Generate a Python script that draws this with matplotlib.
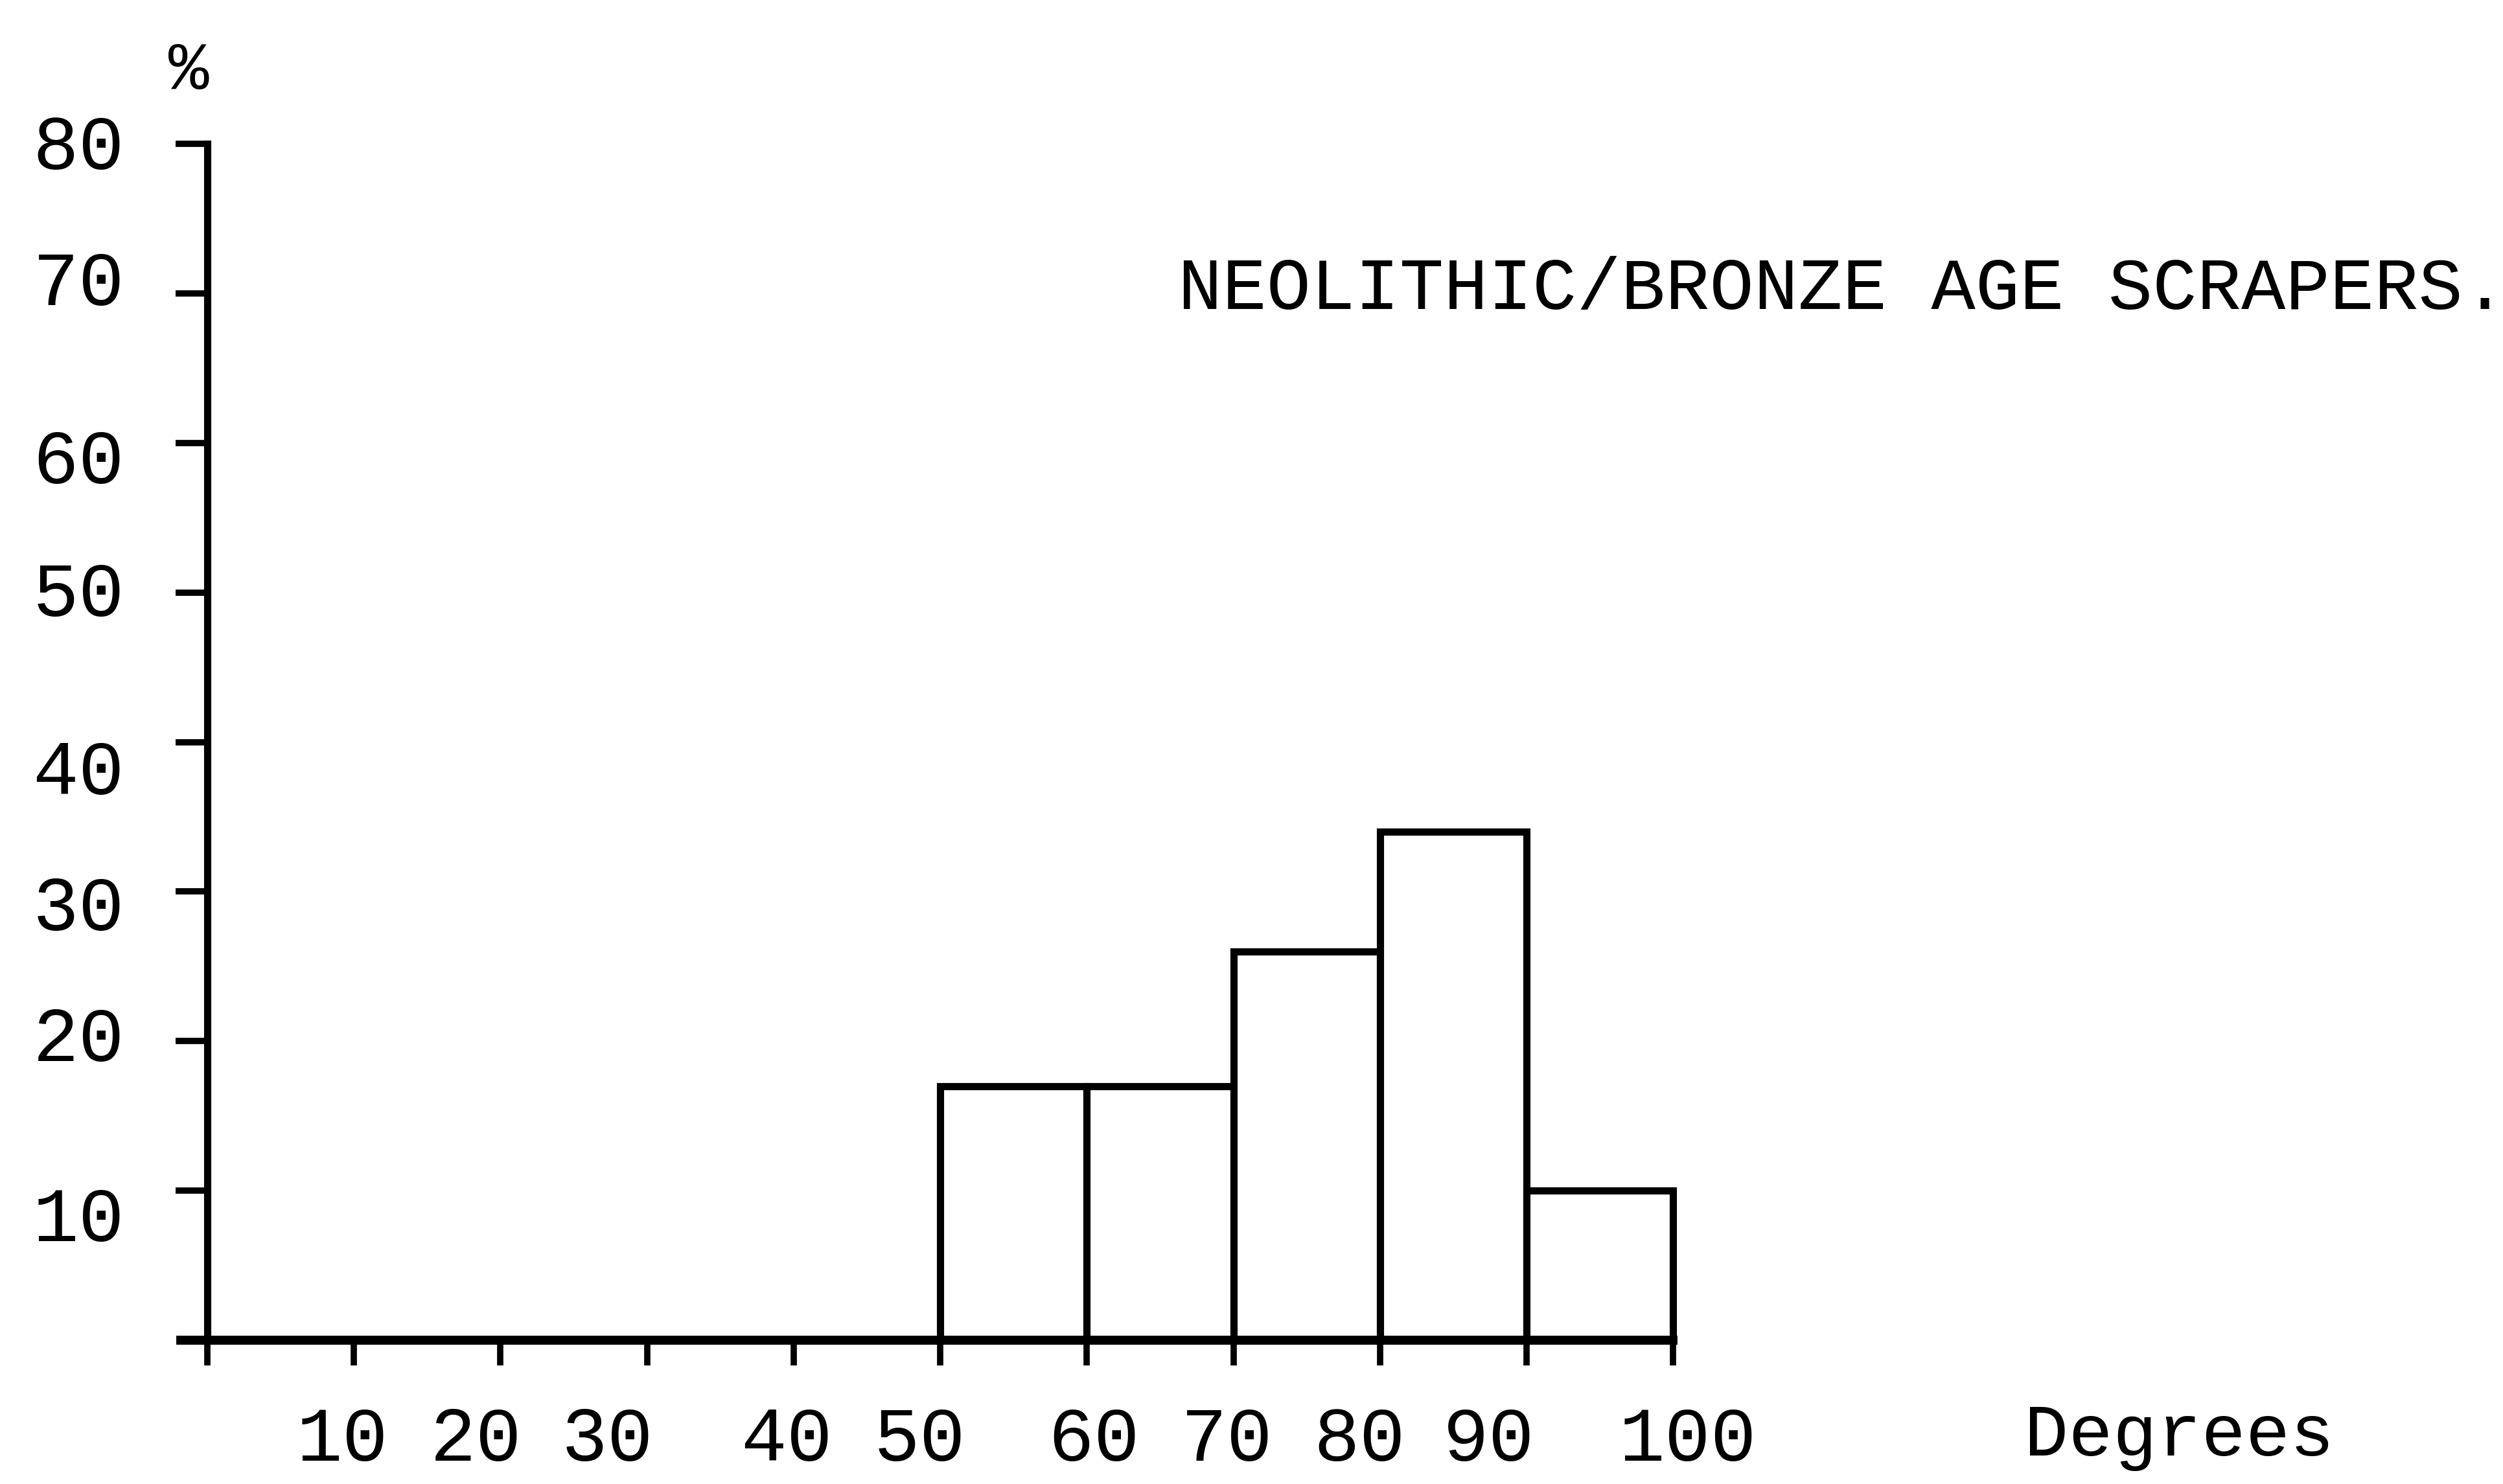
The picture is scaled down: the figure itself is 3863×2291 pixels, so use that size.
import matplotlib.pyplot as plt

# scraper edge angles, grouped in 10 degree classes
bin_left = [50, 60, 70, 80, 90]
bin_width = 10
percent = [17, 17, 26, 34, 10]

x_ticks = [0, 10, 20, 30, 40, 50, 60, 70, 80, 90, 100]
x_labels = ['10', '20', '30', '40', '50', '60', '70', '80', '90', '100']
y_ticks = [10, 20, 30, 40, 50, 60, 70, 80]

title = 'NEOLITHIC/BRONZE AGE SCRAPERS.'
typewriter = 'Liberation Mono'

# labels were typed in by hand, so they sit a little off their ticks (points)
x_label_shift = [-13, -27, -44, -8, -23, 8, -7, -23, -42, 16]
y_label_shift = [-34, 0, -21, -36, -4, -23, 9, -6]

fig = plt.figure(figsize=(38.63, 22.91), dpi=100)
ax = fig.add_axes([0.0723, 0.0969, 0.5962, 0.8062])

ax.bar(bin_left, percent, width=bin_width, align='edge',
       facecolor='white', edgecolor='black', linewidth=8, clip_on=False)

ax.set_xlim(-1.8, 100)
ax.set_ylim(0, 80)

# only a left and a bottom line, like the drawn axes
for side in ['top', 'right']:
    ax.spines[side].set_visible(False)
ax.spines['left'].set_position(('data', 0))
ax.spines['left'].set_bounds(0, 80)
ax.spines['bottom'].set_bounds(-1.8, 100)
ax.spines['left'].set_linewidth(8)
ax.spines['bottom'].set_linewidth(10)
ax.spines['left'].set_capstyle('projecting')

ax.set_xticks(x_ticks)
ax.set_yticks(y_ticks)
ax.tick_params(axis='x', direction='out', length=28, width=7,
               labelbottom=False)
ax.tick_params(axis='y', direction='out', length=35, width=7,
               labelleft=False)

for t, lab, dx in zip(x_ticks[1:], x_labels, x_label_shift):
    ax.annotate(lab, xy=(t, 0), xytext=(dx, -112), textcoords='offset points',
                ha='center', va='center', fontsize=85, family=typewriter,
                annotation_clip=False)
for t, dy in zip(y_ticks, y_label_shift):
    ax.annotate(str(t), xy=(0, t), xytext=(-92, dy), textcoords='offset points',
                ha='right', va='center', fontsize=85, family=typewriter,
                annotation_clip=False)

fig.text(0.4707, 0.8043, title, ha='left', va='center',
         fontsize=82, family=typewriter)
fig.text(0.8087, 0.032, 'Degrees', ha='left', va='center',
         fontsize=82, family=typewriter)
fig.text(0.0753, 0.9516, '%', ha='center', va='center',
         fontsize=75, family=typewriter)

fig.savefig('out.png', dpi=100, facecolor='white')
